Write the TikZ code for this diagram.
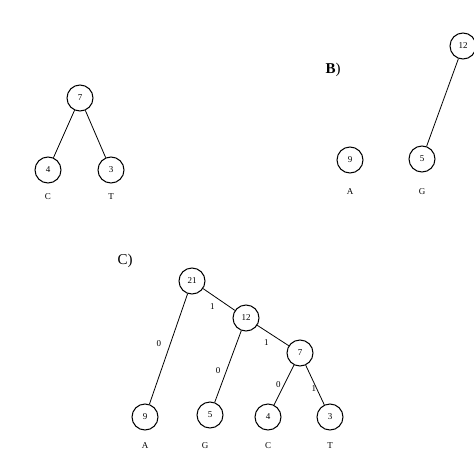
\documentclass[tikz,border=0pt]{standalone}
\usepackage{fontspec}
\setmainfont{Liberation Serif}
\usepackage{tikz}

\begin{document}
\begin{tikzpicture}[x=1pt,y=-1pt,line width=0.8pt,
  knot/.style={draw,circle,line width=1pt,minimum size=26pt,inner sep=0pt,font=\fontsize{9}{9}\selectfont},
  sym/.style={font=\fontsize{9}{9}\selectfont},
  bit/.style={font=\fontsize{9}{9}\selectfont,inner sep=1pt}]
\useasboundingbox (0,0) rectangle (474,474);
% A) subtree
\node[knot] (a7) at (80,98) {7};
\node[knot] (a4) at (48,170) {4};
\node[knot] (a3) at (111,170) {3};
\node[sym] (ac) at (48,197) {C};
\node[sym] (at) at (111,197) {T};
\draw (a7) -- (a4);
\draw (a7) -- (a3);
% B) subtree
\node[font=\fontsize{15}{15}\selectfont] (blab) at (333,70) {\textbf{B})};
\node[knot] (b12) at (463,46) {12};
\node[knot] (b9) at (350,160) {9};
\node[knot] (b5) at (422,159) {5};
\node[sym] (ba) at (350,192) {A};
\node[sym] (bg) at (422,192) {G};
\draw (b12) -- (b5);
% C) full tree
\node[font=\fontsize{15}{15}\selectfont] (clab) at (125,261) {C)};
\node[knot] (c21) at (192,281) {21};
\node[knot] (c12) at (246,318) {12};
\node[knot] (c7) at (300,353) {7};
\node[knot] (c9) at (145,417) {9};
\node[knot] (c5) at (210,415) {5};
\node[knot] (c4) at (268,417) {4};
\node[knot] (c3) at (330,417) {3};
\node[sym] (ca) at (145,446) {A};
\node[sym] (cg) at (205,446) {G};
\node[sym] (cc) at (268,446) {C};
\node[sym] (ct) at (330,446) {T};
\draw (c21) -- node[bit,pos=0.45,left=8pt] {0} (c9);
\draw (c21) -- node[bit,pos=0.5,below left=3pt] {1} (c12);
\draw (c12) -- node[bit,pos=0.55,left=5pt] {0} (c5);
\draw (c12) -- node[bit,pos=0.5,below left=3pt] {1} (c7);
\draw (c7) -- node[bit,pos=0.5,left=2pt] {0} (c4);
\draw (c7) -- node[bit,pos=0.6,xshift=-3pt] {1} (c3);
\end{tikzpicture}
\end{document}
